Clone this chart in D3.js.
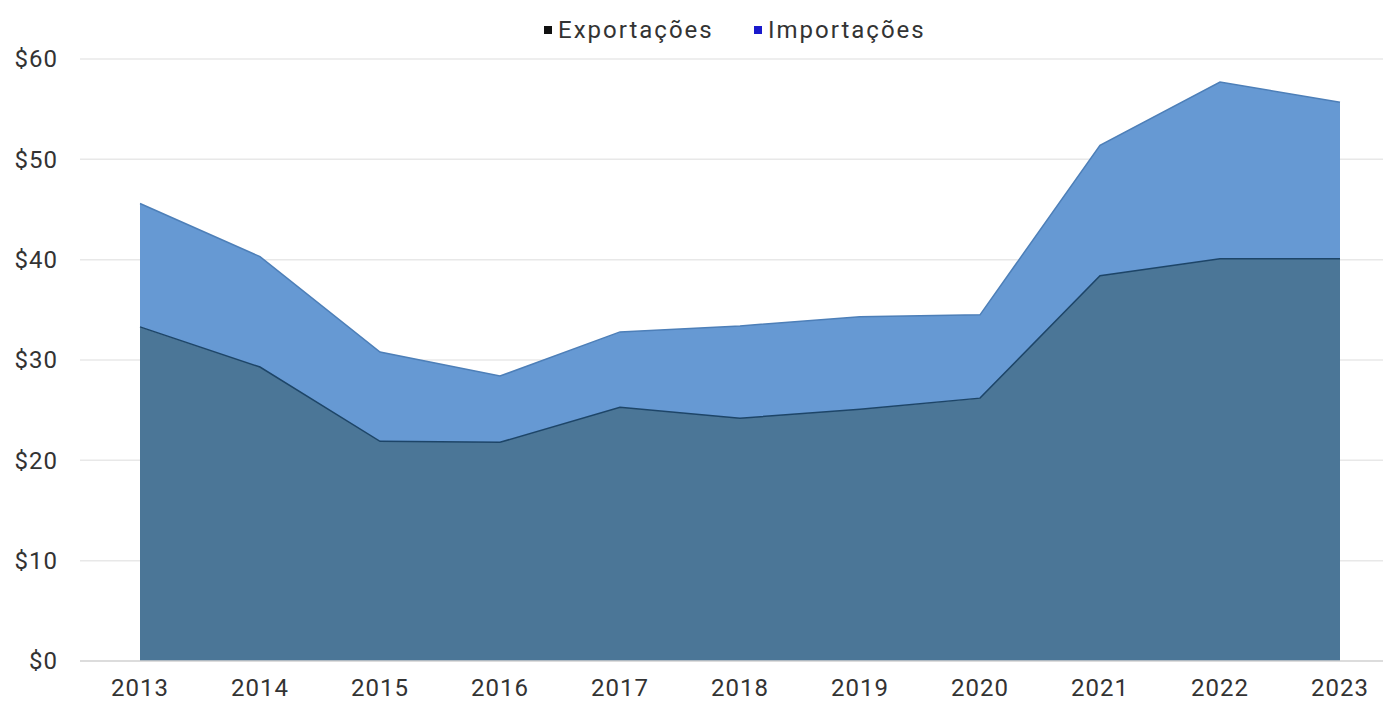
<!DOCTYPE html>
<html><head><meta charset="utf-8">
<script src="https://cdn.jsdelivr.net/npm/d3@7"></script>
<style>body{margin:0;background:#fff}svg{display:block}text{font-family:Roboto,"Noto Sans",sans-serif;fill:#333}</style>
</head><body>
<svg id="c" width="1383" height="702"></svg>
<script>
const years = ["2013","2014","2015","2016","2017","2018","2019","2020","2021","2022","2023"];
const exportacoes = [33.3, 29.3, 21.9, 21.8, 25.3, 24.2, 25.1, 26.2, 38.4, 40.1, 40.1];
const importacoes = [12.3, 11.0, 8.9, 6.6, 7.5, 9.2, 9.2, 8.3, 13.0, 17.6, 15.6];
const yTicks = [0, 10, 20, 30, 40, 50, 60];
const seriesNames = ["Exportações", "Importações"];

const svg = d3.select("#c");
const x = d3.scalePoint().domain(years).range([140, 1340]);
const y = d3.scaleLinear().domain([0, 60]).range([661, 59]);

const rows = years.map((yr, i) => ({year: yr, "Exportações": exportacoes[i], "Importações": importacoes[i]}));
const stack = d3.stack().keys(seriesNames)(rows);

// gridlines
svg.append("g").selectAll("line").data(yTicks.filter(d => d > 0)).join("line")
  .attr("x1", 80).attr("x2", 1383).attr("y1", d => y(d)).attr("y2", d => y(d))
  .attr("stroke", "#e8e8e8").attr("stroke-width", 1.5);

const fills = ["#4b7697", "#6699d3"];
const strokes = ["#1d4568", "#4d7fb8"];
const area = d3.area().x(d => x(d.data.year)).y0(d => y(d[0])).y1(d => y(d[1]));
const topLine = d3.line().x(d => x(d.data.year)).y(d => y(d[1]));

stack.slice().reverse().forEach((s) => {
  const idx = seriesNames.indexOf(s.key);
  svg.append("path").datum(s).attr("d", area).attr("fill", fills[idx]);
});
stack.forEach((s, idx) => {
  svg.append("path").datum(s).attr("d", topLine).attr("fill", "none")
    .attr("stroke", strokes[idx]).attr("stroke-width", 1.5);
});

// baseline
svg.append("line").attr("x1", 80).attr("x2", 1383).attr("y1", y(0)).attr("y2", y(0))
  .attr("stroke", "#d0d0d0").attr("stroke-width", 1.5);

// y axis labels
svg.append("g").selectAll("text").data(yTicks).join("text")
  .attr("x", 58).attr("y", d => y(d)).attr("dy", "0.35em").attr("text-anchor", "end")
  .attr("font-size", 24).attr("letter-spacing", 1).text(d => "$" + d);

// x axis labels
svg.append("g").selectAll("text").data(years).join("text")
  .attr("x", d => x(d)).attr("y", 696).attr("text-anchor", "middle")
  .attr("font-size", 24).attr("letter-spacing", 1).text(d => d);

// legend
const legendColors = ["#111111", "#1a1acc"];
const lg = svg.append("g");
const legX = [544, 754];
seriesNames.forEach((n, i) => {
  lg.append("rect").attr("x", legX[i]).attr("y", 26).attr("width", 8).attr("height", 8).attr("fill", legendColors[i]);
  lg.append("text").attr("x", legX[i] + 14).attr("y", 38).attr("font-size", 24).attr("letter-spacing", 2).text(n);
});
</script>
</body></html>
